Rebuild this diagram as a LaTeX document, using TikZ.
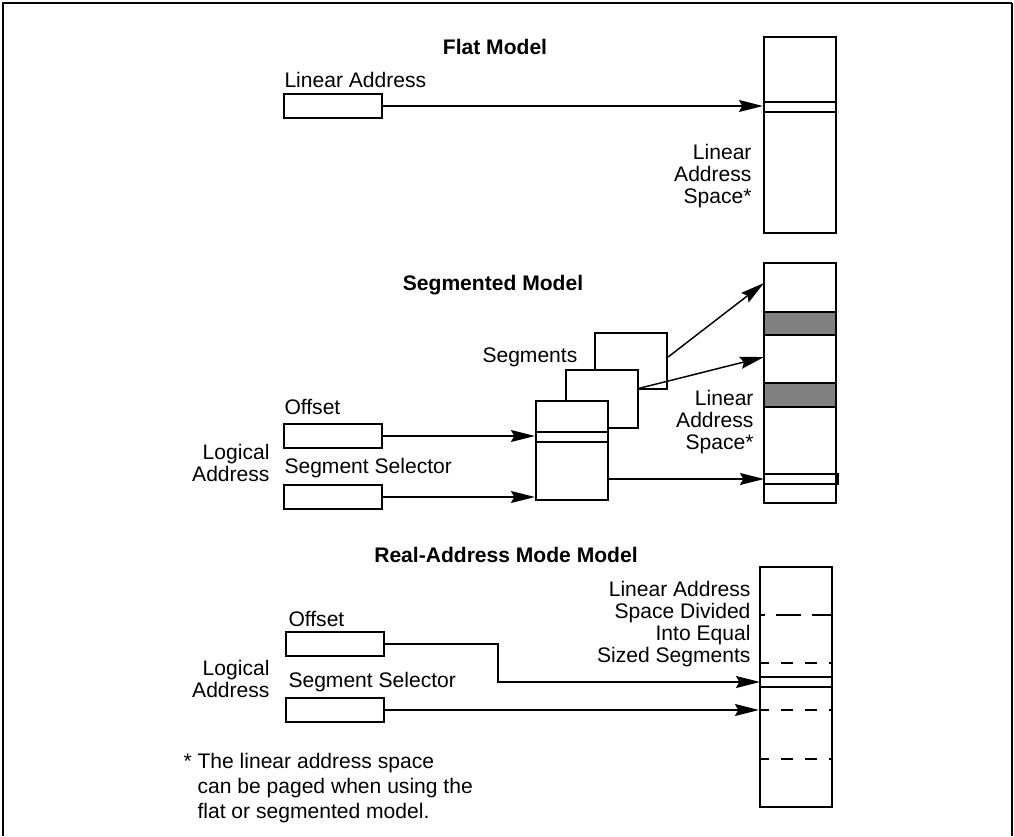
\documentclass[tikz,border=0pt]{standalone}
\usepackage{fontspec}
\setmainfont{Liberation Sans}
\usetikzlibrary{arrows.meta}

\tikzset{every picture/.style={line width=0.75pt}}
\tikzset{
  lbl/.style={inner sep=0pt, font=\fontsize{15.8}{16.5}\selectfont},
  ttl/.style={inner sep=0pt, font=\fontsize{15.8}{16.5}\selectfont\bfseries},
  addrbox/.style={draw, line width=2pt, minimum width=73.5pt, minimum height=18pt, inner sep=0pt},
  memcol/.style={draw, line width=1.6pt, minimum width=54pt, minimum height=180pt, inner sep=0pt},
  segbox/.style={draw, line width=1.6pt, fill=white, minimum width=54pt, inner sep=0pt},
  conn/.style={-{Stealth[length=18pt,width=9pt,inset=2.5pt]}, line width=1.1pt},
  sepline/.style={line width=0.8pt},
  bigdash/.style={line width=2pt, dash pattern=on 18.75pt off 8.25pt, dash phase=14.25pt},
  smalldash/.style={line width=0.9pt, dash pattern=on 9pt off 9pt, dash phase=1.5pt},
}

\begin{document}
\begin{tikzpicture}[x=0.75pt,y=0.75pt,yscale=-1,xscale=1]
	\useasboundingbox (0,0) rectangle (1014,836);
	
	%Shape: Frame
	\draw [line width=2.2pt]  (3,836) -- (3,3) -- (1012,3) ;
	\draw [line width=1.6pt]  (1012,3) -- (1012,836) ;
	
	%%% Flat Model
	% Text Node
	\node [ttl] (flattitle) at (495,47) {Flat Model};
	% Text Node
	\node [lbl, anchor=west] (flatlabel) at (284,80) {Linear Address};
	%Shape: Rectangle
	\node [addrbox] (flatbox) at (333,106) {};
	%Shape: Rectangle
	\node [memcol, minimum height=147pt] (flatmem) at (800,135) {};
	%Straight Lines
	\draw [sepline]  (flatmem.west |- 0,102) -- (flatmem.east |- 0,102) ;
	\draw [sepline]  (flatmem.west |- 0,112) -- (flatmem.east |- 0,112) ;
	%Straight Lines
	\draw [conn]  (flatbox.east) -- (flatbox.east -| flatmem.west) ;
	% Text Node
	\node [lbl, anchor=east, align=right] (flatspace) at (752,176) {Linear\\Address\\Space*};
	
	%%% Segmented Model
	% Text Node
	\node [ttl] (segtitle) at (493,285) {Segmented Model};
	%Shape: Rectangle
	\node [memcol] (segmem) at (800,383) {};
	\draw [line width=1.6pt, fill={rgb, 255:red, 128; green, 128; blue, 128}]  (764,312) rectangle (836,335) ;
	\draw [line width=1.6pt, fill={rgb, 255:red, 128; green, 128; blue, 128}]  (764,383) rectangle (836,407) ;
	\draw [line width=1.6pt]  (764,474) rectangle (838,484) ;
	%Shape: Segments
	\node [segbox, minimum height=42pt] (seg3) at (631,361) {};
	\node [segbox, minimum height=43.5pt] (seg2) at (602,399) {};
	\node [segbox, minimum height=74.25pt] (seg1) at (572,450.5) {};
	\draw [sepline]  (seg1.west |- 0,432) -- (seg1.east |- 0,432) ;
	\draw [sepline]  (seg1.west |- 0,442) -- (seg1.east |- 0,442) ;
	% Text Node
	\node [lbl, anchor=west] (seglabel) at (482,357) {Segments};
	%Straight Lines
	\coordinate (segtop) at (764,283);
	\coordinate (segmid) at (764,357);
	\coordinate (seghit) at (764,479);
	\draw [conn]  ([yshift=-3pt]seg3.east) -- (segtop) ;
	\draw [conn]  ([yshift=-8pt]seg2.east) -- (segmid) ;
	\draw [conn]  (seg1.east |- seghit) -- (seghit) ;
	% Text Node
	\node [lbl, anchor=west] (segofflabel) at (284,407) {Offset};
	\node [addrbox] (segoff) at (333,436) {};
	\node [lbl, anchor=west] (segsellabel) at (284,468) {Segment Selector};
	\node [addrbox] (segsel) at (333,497) {};
	\draw [conn]  (segoff.east) -- (segoff.east -| seg1.west) ;
	\draw [conn]  (segsel.east) -- (segsel.east -| seg1.west) ;
	% Text Node
	\node [lbl, anchor=east, align=right] (seglogical) at (270,463) {Logical\\Address};
	\node [lbl, anchor=east, align=right] (segspace) at (754,422) {Linear\\Address\\Space*};
	
	%%% Real-Address Mode Model
	% Text Node
	\node [ttl] (realtitle) at (506,555) {Real-Address Mode Model};
	%Shape: Rectangle
	\node [memcol] (realmem) at (796,687) {};
	\draw [bigdash]  (realmem.west |- 0,615) -- (realmem.east |- 0,615) ;
	\foreach \y in {663,710,759} {
		\draw [smalldash]  (realmem.west |- 0,\y) -- (realmem.east |- 0,\y) ;
	}
	\draw [sepline]  (realmem.west |- 0,677) -- (realmem.east |- 0,677) ;
	\draw [sepline]  (realmem.west |- 0,687) -- (realmem.east |- 0,687) ;
	% Text Node
	\node [lbl, anchor=east, align=right] (realspace) at (751,624) {Linear Address\\Space Divided\\Into Equal\\Sized Segments};
	\node [lbl, anchor=west] (realofflabel) at (288,619) {Offset};
	\node [addrbox] (realoff) at (335,644) {};
	\node [lbl, anchor=west] (realsellabel) at (288,682) {Segment Selector};
	\node [addrbox] (realsel) at (335,710) {};
	\node [lbl, anchor=east, align=right] (reallogical) at (270,679) {Logical\\Address};
	%Straight Lines
	\coordinate (realbend) at (498,682);
	\coordinate (realhit) at (760,682);
	\draw [conn]  (realoff.east) -| (realbend) -- (realhit) ;
	\draw [conn]  (realsel.east) -- (realsel.east -| realmem.west) ;
	% Text Node
	\node [lbl, anchor=west, align=left, font=\fontsize{15.8}{18.75}\selectfont] (footnote) at (183,788) {* The linear address space\\\hphantom{* }can be paged when using the\\\hphantom{* }flat or segmented model.};
	
\end{tikzpicture}
\end{document}
